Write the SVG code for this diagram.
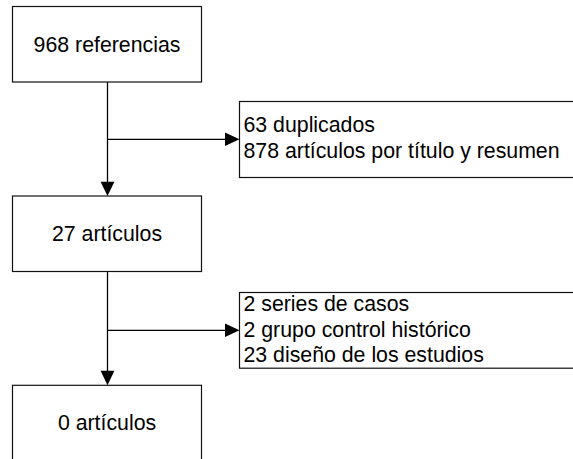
<svg xmlns="http://www.w3.org/2000/svg" width="573" height="459" viewBox="0 0 573 459">
<defs>
<style>
.box{fill:#fff;stroke:#111;stroke-width:1.2}
.t{font-family:"Liberation Sans",Arial,sans-serif;font-size:21.3px;fill:#000}
.c{text-anchor:middle}
.ln{stroke:#000;stroke-width:1.3;fill:none}
.ah{fill:#000}
</style>
</defs>
<rect width="573" height="459" fill="#fff"/>
<g id="connectors">
<line class="ln" x1="107.5" y1="82" x2="107.5" y2="182"/>
<path class="ah" d="M100.6,181.7 L114.4,181.7 L107.5,196 Z"/>
<line class="ln" x1="107.5" y1="139.3" x2="225" y2="139.3"/>
<path class="ah" d="M225,132.5 L225,146.1 L239.5,139.3 Z"/>
<line class="ln" x1="107.5" y1="271.5" x2="107.5" y2="371"/>
<path class="ah" d="M100.6,370.7 L114.4,370.7 L107.5,385.3 Z"/>
<line class="ln" x1="107.5" y1="330.3" x2="225" y2="330.3"/>
<path class="ah" d="M225,323.5 L225,337.1 L239.5,330.3 Z"/>
</g>
<g id="n1">
<rect class="box" x="12.5" y="6.5" width="189" height="75.5"/>
<text class="t c" x="107" y="51.5">968 referencias</text>
</g>
<g id="n2">
<rect class="box" x="239.5" y="101.5" width="360" height="76"/>
<text class="t" x="243.5" y="132">63 duplicados</text>
<text class="t" x="243.5" y="158.3">878 artículos por título y resumen</text>
</g>
<g id="n3">
<rect class="box" x="12.5" y="196" width="189" height="75.5"/>
<text class="t c" x="107" y="241">27 artículos</text>
</g>
<g id="n4">
<rect class="box" x="239.5" y="292.5" width="360" height="75.7"/>
<text class="t" x="243.5" y="311">2 series de casos</text>
<text class="t" x="243.5" y="336.6">2 grupo control histórico</text>
<text class="t" x="243.5" y="362">23 diseño de los estudios</text>
</g>
<g id="n5">
<rect class="box" x="12.5" y="385.3" width="189" height="100"/>
<text class="t c" x="107" y="430">0 artículos</text>
</g>
</svg>
